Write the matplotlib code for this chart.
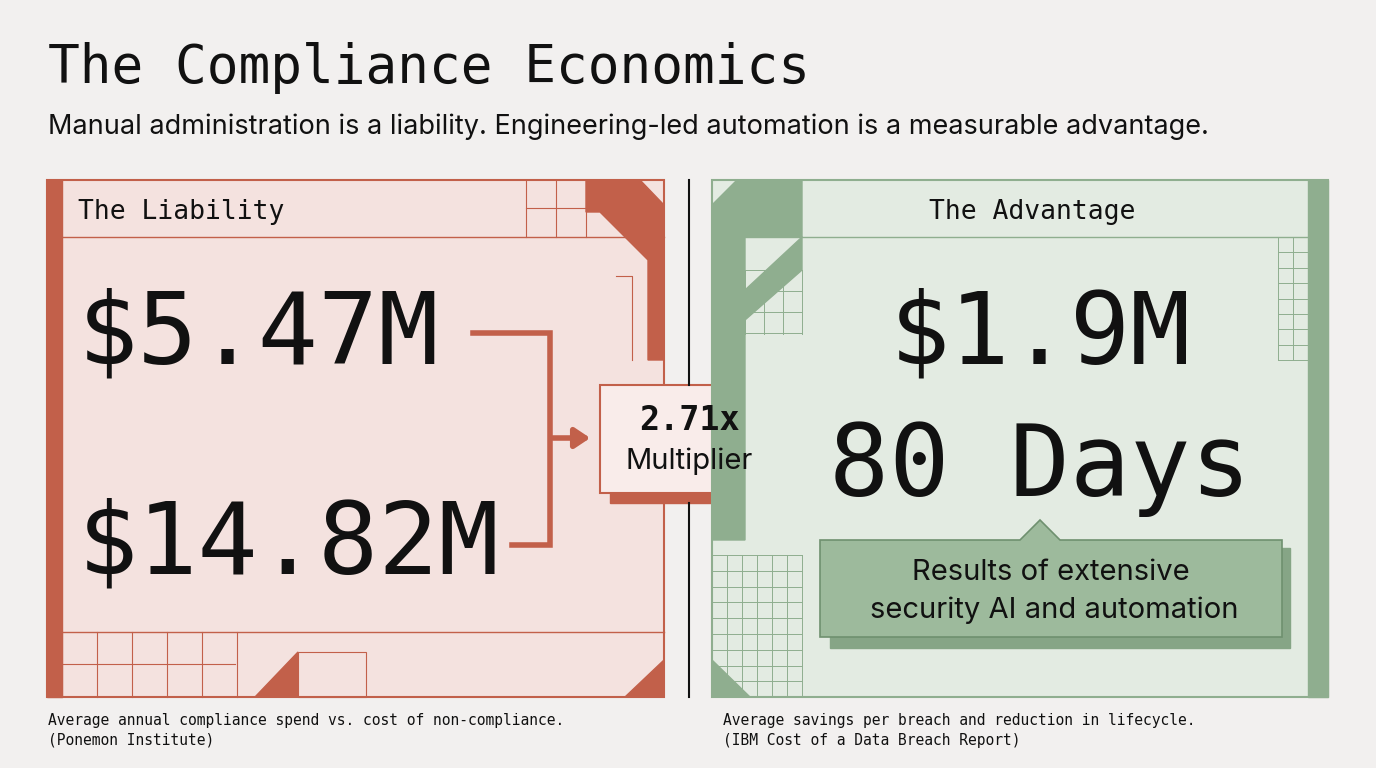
import matplotlib
matplotlib.use("Agg")
import matplotlib.pyplot as plt
from matplotlib.patches import Rectangle, Polygon

title = "The Compliance Economics"
subtitle = "Manual administration is a liability. Engineering-led automation is a measurable advantage."
left_header = "The Liability"
right_header = "The Advantage"
left_values = ["$5.47M", "$14.82M"]
multiplier = 2.71
right_values = ["$1.9M", "80 Days"]
callout = ["Results of extensive", "security AI and automation"]
notes_left = ["Average annual compliance spend vs. cost of non-compliance.", "(Ponemon Institute)"]
notes_right = ["Average savings per breach and reduction in lifecycle.", "(IBM Cost of a Data Breach Report)"]

BG = "#f2f0ef"; RED = "#c2604a"; REDF = "#f4e2df"; GRN = "#8fae8f"; GRNF = "#e3ebe2"
MONO = "DejaVu Sans Mono"; SANS = "Inter"

fig = plt.figure(figsize=(13.76, 7.68), dpi=100, facecolor=BG)
ax = fig.add_axes([0, 0, 1, 1]); ax.set_xlim(0, 1376); ax.set_ylim(768, 0); ax.axis("off")

ax.text(48, 68, title, family=MONO, fontsize=38, va="center", color="#111")
ax.text(48, 127, subtitle, family=SANS, fontsize=19.5, va="center", color="#111")

# Left panel
ax.add_patch(Rectangle((47, 180), 617, 517, fc=REDF, ec=RED, lw=1.5))
ax.add_patch(Rectangle((47, 180), 15, 517, fc=RED, ec=RED))
ax.plot([62, 664], [237, 237], color=RED, lw=1)
ax.plot([62, 664], [632, 632], color=RED, lw=1)
for i in range(3):
    ax.plot([526 + 30 * i, 526 + 30 * i], [180, 237], color=RED, lw=0.8)
ax.plot([526, 586], [208, 208], color=RED, lw=0.8)
ax.add_patch(Polygon([(586, 180), (640, 180), (664, 205), (664, 360), (648, 360), (648, 260), (600, 212), (586, 212)], fc=RED, ec=RED))
ax.plot([616, 632, 632], [276, 276, 360], color=RED, lw=0.8)
for i in range(6):
    ax.plot([62 + 35 * i, 62 + 35 * i], [632, 697], color=RED, lw=0.8)
ax.plot([62, 235], [664, 664], color=RED, lw=0.8)
ax.add_patch(Polygon([(255, 697), (298, 652), (298, 697)], fc=RED, ec=RED))
ax.add_patch(Rectangle((298, 652), 68, 45, fc="none", ec=RED, lw=0.8))
ax.add_patch(Polygon([(625, 697), (664, 660), (664, 697)], fc=RED, ec=RED))
ax.text(78, 212, left_header, family=MONO, fontsize=19, va="center", color="#111")
ax.text(78, 335, left_values[0], family=MONO, fontsize=72, va="center", color="#111")
ax.text(78, 545, left_values[1], family=MONO, fontsize=72, va="center", color="#111")
ax.plot([473, 550, 550, 512], [333, 333, 545, 545], color=RED, lw=4, solid_joinstyle="miter")
ax.annotate("", xy=(593, 438), xytext=(550, 438),
            arrowprops=dict(arrowstyle="-|>,head_length=0.9,head_width=0.6", color=RED, lw=4))

# multiplier box
ax.add_patch(Rectangle((610, 395), 178, 108, fc=RED, ec=RED))
ax.add_patch(Rectangle((600, 385), 178, 108, fc="#f9ecea", ec=RED, lw=1.5))
ax.text(689, 421, f"{multiplier:.2f}x", family=MONO, fontsize=24, fontweight="bold", ha="center", va="center", color="#111")
ax.text(689, 461, "Multiplier", family=SANS, fontsize=21, ha="center", va="center", color="#111")

ax.plot([689, 689], [180, 385], color="#111", lw=1.5)
ax.plot([689, 689], [503, 697], color="#111", lw=1.5)

# Right panel
ax.add_patch(Rectangle((712, 180), 616, 517, fc=GRNF, ec=GRN, lw=1.5))
ax.add_patch(Rectangle((1308, 180), 20, 517, fc=GRN, ec=GRN))
ax.plot([745, 1308], [237, 237], color=GRN, lw=1)
ax.add_patch(Polygon([(712, 205), (737, 180), (802, 180), (802, 237), (745, 237), (745, 290), (802, 237), (802, 270), (745, 320), (745, 540), (712, 540)], fc=GRN, ec=GRN))
for i in range(4):
    ax.plot([745 + 19 * i, 745 + 19 * i], [270, 334], color=GRN, lw=0.7)
for j in range(4):
    ax.plot([745, 802], [270 + 21 * j, 270 + 21 * j], color=GRN, lw=0.7)
for i in range(7):
    ax.plot([712 + 15 * i, 712 + 15 * i], [555, 697], color=GRN, lw=0.7)
for j in range(10):
    ax.plot([712, 802], [555 + 15.8 * j, 555 + 15.8 * j], color=GRN, lw=0.7)
ax.add_patch(Polygon([(712, 660), (750, 697), (712, 697)], fc=GRN, ec=GRN))
for i in range(3):
    ax.plot([1278 + 15 * i, 1278 + 15 * i], [237, 360], color=GRN, lw=0.7)
for j in range(9):
    ax.plot([1278, 1308], [237 + 15.4 * j, 237 + 15.4 * j], color=GRN, lw=0.7)
ax.text(1032, 212, right_header, family=MONO, fontsize=19, ha="center", va="center", color="#111")
ax.text(1040, 335, right_values[0], family=MONO, fontsize=72, ha="center", va="center", color="#111")
ax.text(1040, 468, right_values[1], family=MONO, fontsize=72, ha="center", va="center", color="#111")

ax.add_patch(Rectangle((830, 548), 460, 100, fc="#86a586", ec="#86a586"))
ax.add_patch(Polygon([(820, 540), (1020, 540), (1040, 520), (1060, 540), (1282, 540), (1282, 637), (820, 637)], fc="#9dba9c", ec="#6f906f", lw=1.2))
ax.text(1051, 573, callout[0], family=SANS, fontsize=21, ha="center", va="center", color="#111")
ax.text(1054, 610, callout[1], family=SANS, fontsize=21, ha="center", va="center", color="#111")

for k, t in enumerate(notes_left):
    ax.text(48, 721 + 19 * k, t, family=MONO, fontsize=10.5, va="center", color="#111")
for k, t in enumerate(notes_right):
    ax.text(723, 721 + 19 * k, t, family=MONO, fontsize=10.5, va="center", color="#111")

fig.savefig("out.png", dpi=100, facecolor=BG)
